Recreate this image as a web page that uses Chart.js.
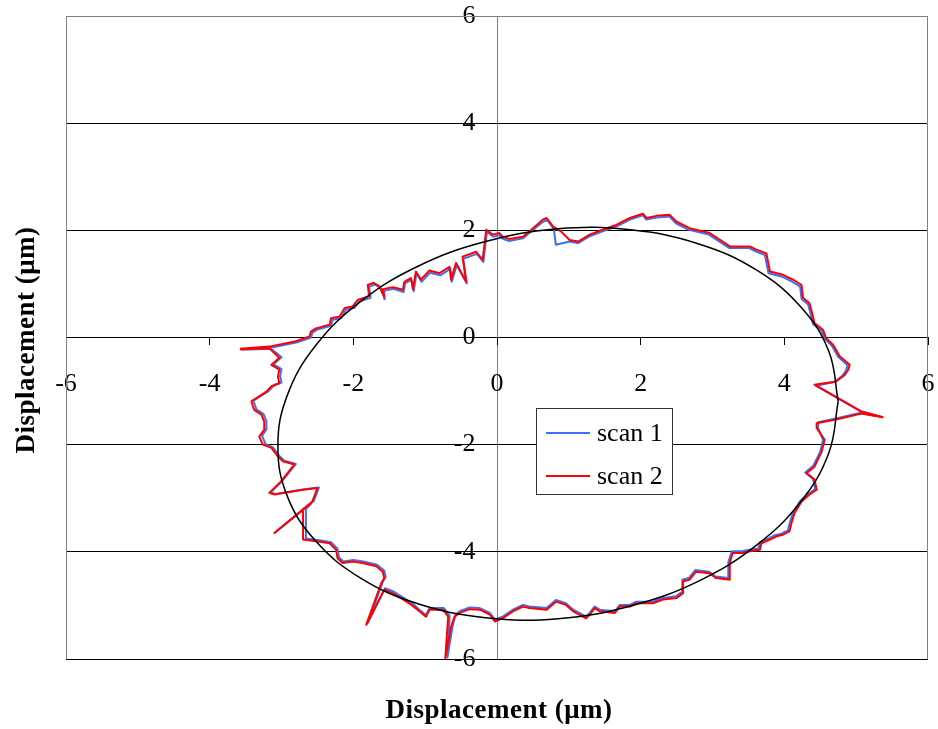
<!DOCTYPE html>
<html>
<head>
<meta charset="utf-8">
<script src="https://cdn.jsdelivr.net/npm/chart.js@4"></script>
<style>
  html, body { margin: 0; padding: 0; background: #fff; }
  #wrap { width: 938px; height: 729px; }
</style>
</head>
<body>
<div id="wrap"><canvas id="chart" width="938" height="729"></canvas></div>
<script>
// axis setup
const axisTitle = "Displacement (\u03bcm)";
const tickValues = [-6, -4, -2, 0, 2, 4, 6];
const seriesLabels = ["scan 1", "scan 2"];

// scan 1 (blue), [x, y] in µm
const scan1 = [
  [-3.56,-0.23],[-3.15,-0.19],[-2.78,-0.09],[-2.59,0.00],[-2.57,0.09],[-2.50,0.15],[-2.31,0.22],[-2.29,0.33],
  [-2.17,0.36],[-2.10,0.52],[-1.99,0.55],[-1.92,0.67],[-1.76,0.74],[-1.78,0.95],[-1.70,0.99],[-1.62,0.92],
  [-1.56,0.72],[-1.57,0.87],[-1.44,0.91],[-1.30,0.85],[-1.28,1.01],[-1.19,1.08],[-1.16,0.86],[-1.12,1.20],
  [-1.05,1.04],[-0.93,1.21],[-0.79,1.16],[-0.65,1.28],[-0.63,1.04],[-0.56,1.35],[-0.42,1.01],[-0.47,1.47],
  [-0.28,1.56],[-0.19,1.41],[-0.14,1.97],[-0.05,1.88],[0.03,1.91],[0.08,1.84],[0.17,1.80],[0.36,1.85],
  [0.45,1.95],[0.64,2.16],[0.70,2.19],[0.79,2.03],[0.82,1.73],[1.01,1.79],[1.13,1.76],[1.29,1.89],
  [1.47,1.98],[1.66,2.07],[1.85,2.20],[2.03,2.28],[2.08,2.20],[2.22,2.24],[2.40,2.26],[2.49,2.13],
  [2.67,2.01],[2.95,1.92],[3.13,1.76],[3.23,1.67],[3.51,1.67],[3.60,1.61],[3.73,1.54],[3.78,1.20],
  [3.96,1.14],[4.10,1.05],[4.22,0.95],[4.24,0.72],[4.33,0.62],[4.36,0.47],[4.40,0.25],[4.52,0.12],
  [4.56,-0.02],[4.66,-0.15],[4.75,-0.36],[4.88,-0.52],[4.86,-0.61],[4.81,-0.71],[4.70,-0.83],[4.44,-0.90],
  [5.05,-1.37],[5.35,-1.48],[5.05,-1.41],[4.75,-1.50],[4.47,-1.58],[4.47,-1.69],[4.54,-1.91],[4.50,-2.13],
  [4.40,-2.40],[4.29,-2.52],[4.40,-2.64],[4.43,-2.83],[4.33,-2.92],[4.22,-3.05],[4.12,-3.27],[4.08,-3.44],
  [4.05,-3.60],[3.96,-3.66],[3.87,-3.69],[3.78,-3.75],[3.66,-3.82],[3.64,-3.94],[3.51,-3.96],[3.41,-3.99],
  [3.27,-3.99],[3.22,-4.19],[3.22,-4.49],[3.04,-4.46],[2.95,-4.37],[2.76,-4.34],[2.67,-4.49],[2.58,-4.52],
  [2.58,-4.74],[2.49,-4.83],[2.31,-4.86],[2.17,-4.93],[1.94,-4.93],[1.85,-4.99],[1.71,-4.99],[1.64,-5.11],
  [1.43,-5.08],[1.36,-5.02],[1.29,-5.14],[1.24,-5.21],[1.06,-5.08],[0.96,-4.96],[0.82,-4.90],[0.69,-5.05],
  [0.45,-5.02],[0.36,-4.99],[0.22,-5.08],[0.08,-5.21],[-0.03,-5.26],[-0.10,-5.14],[-0.24,-5.05],[-0.38,-5.04],
  [-0.52,-5.11],[-0.58,-5.18],[-0.62,-5.40],[-0.69,-5.97],[-0.66,-5.19],[-0.74,-5.05],[-0.94,-5.05],[-0.99,-5.18],
  [-1.08,-5.08],[-1.18,-4.96],[-1.30,-4.86],[-1.44,-4.74],[-1.56,-4.68],[-1.80,-5.33],[-1.59,-4.56],[-1.55,-4.47],
  [-1.57,-4.35],[-1.67,-4.24],[-1.86,-4.18],[-2.00,-4.15],[-2.14,-4.18],[-2.20,-4.10],[-2.22,-3.94],[-2.31,-3.82],
  [-2.45,-3.79],[-2.66,-3.75],[-2.66,-3.20],[-2.58,-3.09],[-3.08,-3.63],[-2.55,-3.05],[-2.48,-2.80],[-2.68,-2.83],
  [-3.08,-2.92],[-3.15,-2.89],[-2.99,-2.68],[-2.80,-2.36],[-2.96,-2.30],[-3.03,-2.21],[-3.12,-2.05],[-3.22,-1.99],
  [-3.27,-1.84],[-3.21,-1.71],[-3.21,-1.56],[-3.25,-1.43],[-3.35,-1.34],[-3.39,-1.18],[-3.32,-1.12],[-3.18,-1.00],
  [-3.11,-0.90],[-3.00,-0.84],[-3.02,-0.72],[-3.00,-0.59],[-3.11,-0.50],[-3.00,-0.37],[-3.07,-0.29],[-3.15,-0.21],
  [-3.56,-0.23]
];

// scan 2 (red)
const scan2 = [
  [-3.58,-0.21],[-3.17,-0.17],[-2.80,-0.07],[-2.61,0.02],[-2.59,0.11],[-2.52,0.17],[-2.33,0.24],[-2.31,0.36],
  [-2.19,0.39],[-2.12,0.55],[-2.01,0.58],[-1.94,0.70],[-1.78,0.77],[-1.80,0.98],[-1.72,1.02],[-1.64,0.96],
  [-1.57,0.76],[-1.59,0.90],[-1.45,0.94],[-1.31,0.89],[-1.29,1.04],[-1.20,1.11],[-1.17,0.90],[-1.13,1.23],
  [-1.06,1.08],[-0.94,1.25],[-0.80,1.20],[-0.66,1.32],[-0.64,1.08],[-0.57,1.39],[-0.43,1.04],[-0.48,1.51],
  [-0.29,1.60],[-0.20,1.45],[-0.15,2.01],[-0.06,1.92],[0.03,1.95],[0.08,1.88],[0.17,1.84],[0.36,1.88],
  [0.45,1.98],[0.64,2.20],[0.69,2.23],[0.78,2.07],[0.89,1.98],[1.01,1.82],[1.13,1.79],[1.29,1.92],
  [1.47,2.01],[1.66,2.10],[1.85,2.23],[2.03,2.31],[2.08,2.23],[2.22,2.27],[2.40,2.29],[2.50,2.16],
  [2.68,2.04],[2.96,1.95],[3.14,1.79],[3.24,1.70],[3.52,1.70],[3.61,1.64],[3.75,1.57],[3.80,1.23],
  [3.98,1.17],[4.12,1.08],[4.24,0.98],[4.26,0.74],[4.35,0.64],[4.38,0.49],[4.42,0.27],[4.54,0.14],
  [4.58,-0.01],[4.68,-0.14],[4.77,-0.35],[4.91,-0.51],[4.89,-0.60],[4.84,-0.70],[4.72,-0.82],[4.42,-0.88],
  [5.07,-1.38],[5.37,-1.49],[5.07,-1.42],[4.75,-1.52],[4.45,-1.60],[4.45,-1.69],[4.56,-1.91],[4.52,-2.13],
  [4.42,-2.41],[4.31,-2.53],[4.42,-2.65],[4.45,-2.84],[4.35,-2.93],[4.24,-3.06],[4.14,-3.28],[4.10,-3.46],
  [4.07,-3.62],[3.98,-3.68],[3.89,-3.71],[3.80,-3.77],[3.68,-3.84],[3.66,-3.96],[3.52,-3.99],[3.42,-4.02],
  [3.28,-4.02],[3.24,-4.21],[3.24,-4.52],[3.05,-4.49],[2.96,-4.40],[2.77,-4.37],[2.68,-4.52],[2.59,-4.55],
  [2.59,-4.77],[2.50,-4.86],[2.31,-4.89],[2.17,-4.96],[1.94,-4.96],[1.85,-5.02],[1.71,-5.02],[1.64,-5.14],
  [1.43,-5.11],[1.36,-5.05],[1.29,-5.17],[1.24,-5.24],[1.06,-5.11],[0.96,-4.99],[0.82,-4.93],[0.69,-5.08],
  [0.45,-5.05],[0.36,-5.02],[0.22,-5.11],[0.08,-5.24],[-0.03,-5.30],[-0.10,-5.17],[-0.24,-5.08],[-0.38,-5.07],
  [-0.52,-5.14],[-0.59,-5.21],[-0.64,-5.40],[-0.72,-5.99],[-0.68,-5.21],[-0.75,-5.08],[-0.94,-5.08],[-0.99,-5.21],
  [-1.08,-5.11],[-1.19,-4.99],[-1.31,-4.89],[-1.45,-4.77],[-1.57,-4.71],[-1.82,-5.36],[-1.61,-4.58],[-1.57,-4.49],
  [-1.59,-4.37],[-1.68,-4.27],[-1.87,-4.21],[-2.01,-4.18],[-2.15,-4.21],[-2.22,-4.12],[-2.24,-3.96],[-2.33,-3.84],
  [-2.47,-3.81],[-2.70,-3.77],[-2.70,-3.20],[-2.60,-3.10],[-3.10,-3.65],[-2.57,-3.06],[-2.50,-2.81],[-2.70,-2.84],
  [-3.10,-2.93],[-3.17,-2.90],[-3.01,-2.69],[-2.82,-2.37],[-2.98,-2.31],[-3.05,-2.22],[-3.14,-2.06],[-3.26,-2.00],
  [-3.31,-1.85],[-3.24,-1.72],[-3.24,-1.57],[-3.28,-1.44],[-3.38,-1.35],[-3.42,-1.19],[-3.35,-1.13],[-3.21,-1.01],
  [-3.14,-0.91],[-3.03,-0.85],[-3.05,-0.73],[-3.03,-0.60],[-3.14,-0.51],[-3.03,-0.38],[-3.10,-0.29],[-3.17,-0.20],
  [-3.58,-0.22]
];

// fitted ellipse (black)
const fitEllipse = [
  [4.75,-1.19],[4.62,-0.26],[4.23,0.57],[3.61,1.26],[2.80,1.75],[1.86,2.01],[0.85,2.03],[-0.16,1.79],
  [-1.10,1.33],[-1.91,0.66],[-2.53,-0.16],[-2.92,-1.08],[-3.05,-2.03],[-2.92,-2.96],[-2.53,-3.79],[-1.91,-4.48],
  [-1.10,-4.97],[-0.16,-5.23],[0.85,-5.25],[1.86,-5.01],[2.80,-4.55],[3.61,-3.88],[4.23,-3.06],[4.62,-2.15],
  [4.75,-1.19]
];

const toPoints = arr => arr.map(p => ({ x: p[0], y: p[1] }));
const serif = "'Liberation Serif', 'Times New Roman', serif";

// gray frame around the plot (left, top, right)
const framePlugin = {
  id: 'frame',
  beforeDatasetsDraw(chart) {
    const { ctx, chartArea: a } = chart;
    ctx.save();
    ctx.strokeStyle = '#808080';
    ctx.lineWidth = 1;
    ctx.beginPath();
    ctx.moveTo(a.left + 0.5, a.bottom);
    ctx.lineTo(a.left + 0.5, a.top + 0.5);
    ctx.lineTo(a.right - 0.5, a.top + 0.5);
    ctx.lineTo(a.right - 0.5, a.bottom);
    ctx.stroke();
    ctx.restore();
  }
};

// axis titles, drawn at the canvas edges
const titlesPlugin = {
  id: 'titles',
  afterDraw(chart) {
    const { ctx } = chart;
    ctx.save();
    ctx.fillStyle = '#000';
    ctx.font = "bold 27px " + serif;
    ctx.letterSpacing = '0.5px';
    ctx.textAlign = 'center';
    ctx.textBaseline = 'middle';
    ctx.fillText(axisTitle, 499, 711);
    ctx.translate(27, 340);
    ctx.rotate(-Math.PI / 2);
    ctx.fillText(axisTitle, 0, 0);
    ctx.restore();
  }
};

// boxed legend inside the plot
const legendPlugin = {
  id: 'boxLegend',
  afterDraw(chart) {
    const { ctx } = chart;
    const box = { x: 536, y: 408, w: 136, h: 86 };
    ctx.save();
    ctx.fillStyle = '#fff';
    ctx.fillRect(box.x, box.y, box.w, box.h);
    ctx.strokeStyle = '#333';
    ctx.lineWidth = 1;
    ctx.strokeRect(box.x + 0.5, box.y + 0.5, box.w, box.h);
    ctx.font = "26px " + serif;
    ctx.textBaseline = 'middle';
    ctx.textAlign = 'left';
    seriesLabels.forEach((lbl, i) => {
      const ds = chart.data.datasets.find(d => d.label === lbl);
      const y = box.y + 25 + i * 43;
      ctx.strokeStyle = ds.borderColor;
      ctx.lineWidth = 2;
      ctx.beginPath();
      ctx.moveTo(box.x + 10, y);
      ctx.lineTo(box.x + 54, y);
      ctx.stroke();
      ctx.fillStyle = '#000';
      ctx.fillText(lbl, box.x + 61, y + 1);
    });
    ctx.restore();
  }
};

const setTicks = scale => { scale.ticks = tickValues.map(v => ({ value: v })); };

new Chart(document.getElementById('chart'), {
  type: 'scatter',
  data: {
    datasets: [
      {
        label: 'fit',
        data: toPoints(fitEllipse),
        showLine: true,
        borderColor: '#000000',
        borderWidth: 1.5,
        tension: 0.4,
        pointRadius: 0,
        order: 0
      },
      {
        label: seriesLabels[1],
        data: toPoints(scan2),
        showLine: true,
        borderColor: '#ff0000',
        borderWidth: 2,
        borderJoinStyle: 'round',
        pointRadius: 0,
        order: 1
      },
      {
        label: seriesLabels[0],
        data: toPoints(scan1),
        showLine: true,
        borderColor: '#3f6ff2',
        borderWidth: 2,
        borderJoinStyle: 'round',
        pointRadius: 0,
        order: 2
      }
    ]
  },
  options: {
    responsive: false,
    animation: false,
    layout: { padding: { left: 66, right: 10, top: 16, bottom: 70 } },
    plugins: {
      legend: { display: false },
      tooltip: { enabled: false }
    },
    scales: {
      x: {
        type: 'linear',
        min: -6, max: 6,
        position: { y: 0 },
        afterBuildTicks: setTicks,
        afterFit: s => { s.paddingLeft = 0; s.paddingRight = 0; },
        grid: {
          drawOnChartArea: true, drawTicks: true, tickLength: 7, tickColor: '#000',
          color: c => (c.tick && c.tick.value === 0) ? '#808080' : 'rgba(0,0,0,0)'
        },
        border: { display: true, color: '#000', width: 1 },
        ticks: { font: { family: serif, size: 26 }, color: '#000', padding: 24, maxRotation: 0 }
      },
      y: {
        type: 'linear',
        min: -6, max: 6,
        // labels sit right-aligned at this x, a little left of the x = 0 line
        position: { x: -0.3 },
        afterBuildTicks: setTicks,
        afterFit: s => { s.paddingTop = 0; s.paddingBottom = 0; },
        grid: {
          drawOnChartArea: true, drawTicks: false,
          color: c => (c.tick && c.tick.value === 6) ? '#808080' : '#000'
        },
        border: { display: false },
        ticks: { font: { family: serif, size: 26 }, color: '#000', padding: 0 }
      }
    }
  },
  plugins: [framePlugin, titlesPlugin, legendPlugin]
});
</script>
</body>
</html>
